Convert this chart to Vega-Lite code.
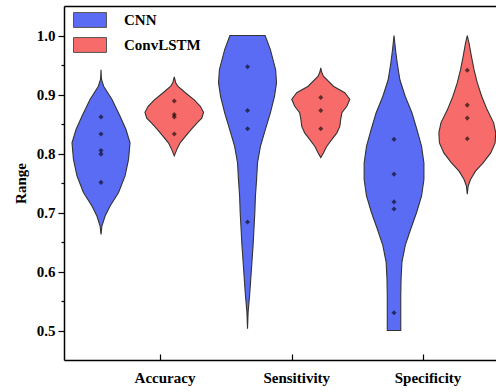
{
  "$schema": "https://vega.github.io/schema/vega-lite/v6.json",
  "width": 432,
  "height": 354,
  "autosize": {"type": "none"},
  "padding": {"left": 64, "top": 6, "right": 0, "bottom": 32},
  "background": "white",
  "config": {"view": {"stroke": null}, "font": "Liberation Serif"},
  "datasets": {
    "profile": [
      {"m": "Accuracy", "g": "CNN", "v": 0.942, "d": 0},
      {"m": "Accuracy", "g": "CNN", "v": 0.93, "d": 0.01},
      {"m": "Accuracy", "g": "CNN", "v": 0.925, "d": 0.02},
      {"m": "Accuracy", "g": "CNN", "v": 0.914, "d": 0.09},
      {"m": "Accuracy", "g": "CNN", "v": 0.891, "d": 0.38},
      {"m": "Accuracy", "g": "CNN", "v": 0.863, "d": 0.65},
      {"m": "Accuracy", "g": "CNN", "v": 0.841, "d": 0.85},
      {"m": "Accuracy", "g": "CNN", "v": 0.818, "d": 0.99},
      {"m": "Accuracy", "g": "CNN", "v": 0.79, "d": 0.94},
      {"m": "Accuracy", "g": "CNN", "v": 0.762, "d": 0.82},
      {"m": "Accuracy", "g": "CNN", "v": 0.734, "d": 0.6},
      {"m": "Accuracy", "g": "CNN", "v": 0.711, "d": 0.31},
      {"m": "Accuracy", "g": "CNN", "v": 0.694, "d": 0.14},
      {"m": "Accuracy", "g": "CNN", "v": 0.677, "d": 0.03},
      {"m": "Accuracy", "g": "CNN", "v": 0.663, "d": 0},
      {"m": "Accuracy", "g": "ConvLSTM", "v": 0.93, "d": 0},
      {"m": "Accuracy", "g": "ConvLSTM", "v": 0.92, "d": 0.05},
      {"m": "Accuracy", "g": "ConvLSTM", "v": 0.914, "d": 0.12},
      {"m": "Accuracy", "g": "ConvLSTM", "v": 0.903, "d": 0.38},
      {"m": "Accuracy", "g": "ConvLSTM", "v": 0.891, "d": 0.68},
      {"m": "Accuracy", "g": "ConvLSTM", "v": 0.88, "d": 0.89},
      {"m": "Accuracy", "g": "ConvLSTM", "v": 0.87, "d": 1.0},
      {"m": "Accuracy", "g": "ConvLSTM", "v": 0.86, "d": 0.94},
      {"m": "Accuracy", "g": "ConvLSTM", "v": 0.852, "d": 0.78},
      {"m": "Accuracy", "g": "ConvLSTM", "v": 0.841, "d": 0.58},
      {"m": "Accuracy", "g": "ConvLSTM", "v": 0.829, "d": 0.38},
      {"m": "Accuracy", "g": "ConvLSTM", "v": 0.818, "d": 0.2},
      {"m": "Accuracy", "g": "ConvLSTM", "v": 0.807, "d": 0.09},
      {"m": "Accuracy", "g": "ConvLSTM", "v": 0.796, "d": 0},
      {"m": "Sensitivity", "g": "CNN", "v": 1.0, "d": 0.6},
      {"m": "Sensitivity", "g": "CNN", "v": 0.976, "d": 0.78},
      {"m": "Sensitivity", "g": "CNN", "v": 0.942, "d": 0.96},
      {"m": "Sensitivity", "g": "CNN", "v": 0.92, "d": 0.99},
      {"m": "Sensitivity", "g": "CNN", "v": 0.897, "d": 0.92},
      {"m": "Sensitivity", "g": "CNN", "v": 0.869, "d": 0.78},
      {"m": "Sensitivity", "g": "CNN", "v": 0.841, "d": 0.61},
      {"m": "Sensitivity", "g": "CNN", "v": 0.812, "d": 0.44},
      {"m": "Sensitivity", "g": "CNN", "v": 0.784, "d": 0.34},
      {"m": "Sensitivity", "g": "CNN", "v": 0.756, "d": 0.31},
      {"m": "Sensitivity", "g": "CNN", "v": 0.728, "d": 0.27},
      {"m": "Sensitivity", "g": "CNN", "v": 0.7, "d": 0.25},
      {"m": "Sensitivity", "g": "CNN", "v": 0.672, "d": 0.22},
      {"m": "Sensitivity", "g": "CNN", "v": 0.644, "d": 0.19},
      {"m": "Sensitivity", "g": "CNN", "v": 0.616, "d": 0.15},
      {"m": "Sensitivity", "g": "CNN", "v": 0.587, "d": 0.11},
      {"m": "Sensitivity", "g": "CNN", "v": 0.559, "d": 0.07},
      {"m": "Sensitivity", "g": "CNN", "v": 0.531, "d": 0.02},
      {"m": "Sensitivity", "g": "CNN", "v": 0.503, "d": 0},
      {"m": "Sensitivity", "g": "ConvLSTM", "v": 0.945, "d": 0},
      {"m": "Sensitivity", "g": "ConvLSTM", "v": 0.938, "d": 0.03},
      {"m": "Sensitivity", "g": "ConvLSTM", "v": 0.931, "d": 0.09},
      {"m": "Sensitivity", "g": "ConvLSTM", "v": 0.914, "d": 0.43},
      {"m": "Sensitivity", "g": "ConvLSTM", "v": 0.903, "d": 0.82},
      {"m": "Sensitivity", "g": "ConvLSTM", "v": 0.892, "d": 0.99},
      {"m": "Sensitivity", "g": "ConvLSTM", "v": 0.88, "d": 0.89},
      {"m": "Sensitivity", "g": "ConvLSTM", "v": 0.869, "d": 0.72},
      {"m": "Sensitivity", "g": "ConvLSTM", "v": 0.858, "d": 0.68},
      {"m": "Sensitivity", "g": "ConvLSTM", "v": 0.846, "d": 0.65},
      {"m": "Sensitivity", "g": "ConvLSTM", "v": 0.835, "d": 0.55},
      {"m": "Sensitivity", "g": "ConvLSTM", "v": 0.824, "d": 0.38},
      {"m": "Sensitivity", "g": "ConvLSTM", "v": 0.812, "d": 0.2},
      {"m": "Sensitivity", "g": "ConvLSTM", "v": 0.801, "d": 0.09},
      {"m": "Sensitivity", "g": "ConvLSTM", "v": 0.793, "d": 0},
      {"m": "Specificity", "g": "CNN", "v": 1.0, "d": 0},
      {"m": "Specificity", "g": "CNN", "v": 0.976, "d": 0.05},
      {"m": "Specificity", "g": "CNN", "v": 0.953, "d": 0.11},
      {"m": "Specificity", "g": "CNN", "v": 0.925, "d": 0.2},
      {"m": "Specificity", "g": "CNN", "v": 0.897, "d": 0.38},
      {"m": "Specificity", "g": "CNN", "v": 0.869, "d": 0.61},
      {"m": "Specificity", "g": "CNN", "v": 0.841, "d": 0.78},
      {"m": "Specificity", "g": "CNN", "v": 0.812, "d": 0.94},
      {"m": "Specificity", "g": "CNN", "v": 0.784, "d": 1.02},
      {"m": "Specificity", "g": "CNN", "v": 0.756, "d": 1.02},
      {"m": "Specificity", "g": "CNN", "v": 0.728, "d": 0.94},
      {"m": "Specificity", "g": "CNN", "v": 0.7, "d": 0.77},
      {"m": "Specificity", "g": "CNN", "v": 0.672, "d": 0.57},
      {"m": "Specificity", "g": "CNN", "v": 0.644, "d": 0.38},
      {"m": "Specificity", "g": "CNN", "v": 0.616, "d": 0.27},
      {"m": "Specificity", "g": "CNN", "v": 0.587, "d": 0.24},
      {"m": "Specificity", "g": "CNN", "v": 0.559, "d": 0.23},
      {"m": "Specificity", "g": "CNN", "v": 0.5, "d": 0.23},
      {"m": "Specificity", "g": "ConvLSTM", "v": 1.0, "d": 0},
      {"m": "Specificity", "g": "ConvLSTM", "v": 0.987, "d": 0.06},
      {"m": "Specificity", "g": "ConvLSTM", "v": 0.965, "d": 0.14},
      {"m": "Specificity", "g": "ConvLSTM", "v": 0.942, "d": 0.23},
      {"m": "Specificity", "g": "ConvLSTM", "v": 0.92, "d": 0.34},
      {"m": "Specificity", "g": "ConvLSTM", "v": 0.897, "d": 0.49},
      {"m": "Specificity", "g": "ConvLSTM", "v": 0.874, "d": 0.68},
      {"m": "Specificity", "g": "ConvLSTM", "v": 0.852, "d": 0.9},
      {"m": "Specificity", "g": "ConvLSTM", "v": 0.835, "d": 0.97},
      {"m": "Specificity", "g": "ConvLSTM", "v": 0.818, "d": 0.95},
      {"m": "Specificity", "g": "ConvLSTM", "v": 0.801, "d": 0.8},
      {"m": "Specificity", "g": "ConvLSTM", "v": 0.784, "d": 0.54},
      {"m": "Specificity", "g": "ConvLSTM", "v": 0.77, "d": 0.28},
      {"m": "Specificity", "g": "ConvLSTM", "v": 0.756, "d": 0.11},
      {"m": "Specificity", "g": "ConvLSTM", "v": 0.745, "d": 0.03},
      {"m": "Specificity", "g": "ConvLSTM", "v": 0.731, "d": 0}
    ],
    "pts": [
      {"m": "Accuracy", "g": "CNN", "v": 0.862},
      {"m": "Accuracy", "g": "CNN", "v": 0.833},
      {"m": "Accuracy", "g": "CNN", "v": 0.805},
      {"m": "Accuracy", "g": "CNN", "v": 0.799},
      {"m": "Accuracy", "g": "CNN", "v": 0.751},
      {"m": "Accuracy", "g": "ConvLSTM", "v": 0.889},
      {"m": "Accuracy", "g": "ConvLSTM", "v": 0.866},
      {"m": "Accuracy", "g": "ConvLSTM", "v": 0.862},
      {"m": "Accuracy", "g": "ConvLSTM", "v": 0.833},
      {"m": "Sensitivity", "g": "CNN", "v": 0.947},
      {"m": "Sensitivity", "g": "CNN", "v": 0.873},
      {"m": "Sensitivity", "g": "CNN", "v": 0.842},
      {"m": "Sensitivity", "g": "CNN", "v": 0.684},
      {"m": "Sensitivity", "g": "ConvLSTM", "v": 0.895},
      {"m": "Sensitivity", "g": "ConvLSTM", "v": 0.873},
      {"m": "Sensitivity", "g": "ConvLSTM", "v": 0.842},
      {"m": "Specificity", "g": "CNN", "v": 0.824},
      {"m": "Specificity", "g": "CNN", "v": 0.765},
      {"m": "Specificity", "g": "CNN", "v": 0.718},
      {"m": "Specificity", "g": "CNN", "v": 0.706},
      {"m": "Specificity", "g": "CNN", "v": 0.53},
      {"m": "Specificity", "g": "ConvLSTM", "v": 0.941},
      {"m": "Specificity", "g": "ConvLSTM", "v": 0.882},
      {"m": "Specificity", "g": "ConvLSTM", "v": 0.86},
      {"m": "Specificity", "g": "ConvLSTM", "v": 0.825}
    ]
  },
  "layer": [
    {
      "data": {"name": "profile"},
      "transform": [
        {"calculate": "(datum.m === 'Accuracy' ? 1 : datum.m === 'Sensitivity' ? 2 : 3) + (datum.g === 'ConvLSTM' ? 0.5 : 0)", "as": "c"},
        {"calculate": "datum.c - 0.2 * datum.d", "as": "lo"},
        {"calculate": "datum.c + 0.2 * datum.d", "as": "hi"}
      ],
      "mark": {"type": "area", "orient": "horizontal", "stroke": "#333333", "strokeWidth": 1.1, "opacity": 1, "fillOpacity": 1},
      "encoding": {
        "y": {
          "field": "v", "type": "quantitative",
          "scale": {"domain": [0.45, 1.05], "nice": false, "zero": false},
          "axis": {
            "values": [0.5, 0.6, 0.7, 0.8, 0.9, 1.0], "format": ".1f", "title": "Range",
            "grid": false, "tickSize": 6, "tickWidth": 1.2, "tickColor": "black",
            "domainColor": "black", "domainWidth": 1.5,
            "labelFont": "Liberation Serif", "labelFontWeight": "bold", "labelFontSize": 15, "labelColor": "black", "labelPadding": 3,
            "titleFont": "Liberation Serif", "titleFontWeight": "bold", "titleFontSize": 15, "titleColor": "black", "titlePadding": 8
          }
        },
        "x": {
          "field": "lo", "type": "quantitative",
          "scale": {"domain": [0.7474, 3.696], "nice": false, "zero": false},
          "axis": {
            "values": [1.4027, 2.3017, 3.198],
            "labelExpr": "datum.value < 2 ? 'Accuracy' : datum.value < 3 ? 'Sensitivity' : 'Specificity'",
            "title": null, "grid": false, "tickSize": -6, "tickWidth": 1.2, "tickColor": "black",
            "domainColor": "black", "domainWidth": 1.5, "labelPadding": 16, "labelOffset": 4.5,
            "labelFont": "Liberation Serif", "labelFontWeight": "bold", "labelFontSize": 15, "labelColor": "black"
          }
        },
        "x2": {"field": "hi"},
        "color": {
          "field": "g", "type": "nominal",
          "scale": {"domain": ["CNN", "ConvLSTM"], "range": ["#5a6cf3", "#f76b6b"]},
          "legend": {
            "orient": "none", "legendX": 17, "legendY": 5, "title": null, "padding": 0,
            "symbolType": "M-2,-0.9L2,-0.9L2,0.9L-2,0.9Z", "symbolSize": 272,
            "symbolStrokeColor": "#555555", "symbolStrokeWidth": 1, "symbolOpacity": 1,
            "labelFont": "Liberation Serif", "labelFontWeight": "bold", "labelFontSize": 15, "labelColor": "black",
            "labelOffset": 25, "rowPadding": 5
          }
        },
        "detail": {"field": "m"}
      }
    },
    {
      "data": {"name": "pts"},
      "transform": [
        {"calculate": "(datum.m === 'Accuracy' ? 1 : datum.m === 'Sensitivity' ? 2 : 3) + (datum.g === 'ConvLSTM' ? 0.5 : 0)", "as": "c"}
      ],
      "mark": {"type": "point", "shape": "diamond", "filled": true, "size": 26, "color": "black", "opacity": 0.6},
      "encoding": {
        "x": {
          "field": "c", "type": "quantitative",
          "axis": {"orient": "top", "labels": false, "ticks": false, "domain": true, "domainColor": "black", "domainWidth": 1.5, "title": null, "grid": false}
        },
        "y": {
          "field": "v", "type": "quantitative",
          "axis": {"orient": "left", "values": [0.55, 0.65, 0.75, 0.85, 0.95], "labels": false, "domain": false, "tickSize": 3, "tickWidth": 1.2, "tickColor": "black", "title": null, "grid": false}
        }
      }
    }
  ],
  "resolve": {"axis": {"x": "independent", "y": "independent"}}
}
